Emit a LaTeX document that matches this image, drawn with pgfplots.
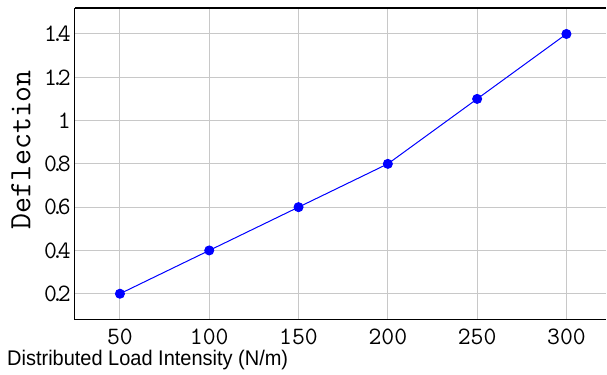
\documentclass[border=0pt]{standalone}
\usepackage{fontspec}
\usepackage{pgfplots}
\pgfplotsset{compat=1.18}
\newfontfamily\sansx{Liberation Sans}
\definecolor{gridgray}{RGB}{200,200,200}
\newcommand{\dt}{\kern-.24em.\kern-.24em}
\begin{document}
\begin{tikzpicture}
\begin{axis}[
  scale only axis,
  width=532pt, height=312pt,
  xmin=24.8, xmax=322.4,
  ymin=0.08, ymax=1.52,
  xtick={50,100,150,200,250,300},
  xticklabels={50,100,150,200,250,300},
  ytick={0.2,0.4,0.6,0.8,1,1.2,1.4},
  yticklabels={0\dt2,0\dt4,0\dt6,0\dt8,1,1\dt2,1\dt4},
  axis x line=box, axis y line*=left,
  axis line style={-, black, line width=1.1pt},
  major tick length=0pt,
  grid=major,
  major grid style={gridgray, line width=1pt},
  ticklabel style={font=\fontsize{25}{28}\selectfont\ttfamily, inner sep=0pt},
  xticklabel style={yshift=-9pt},
  yticklabel style={xshift=-4pt},
  xlabel={\scalebox{1}[1.06]{Distributed Load Intensity (N/m)}},
  xlabel style={font=\fontsize{20}{24}\selectfont\sansx, at={(rel axis cs:0,0)}, anchor=base west, xshift=-68pt, yshift=-46pt, inner sep=0pt},
  ylabel={Deflection},
  ylabel style={font=\fontsize{31}{34}\selectfont\ttfamily, at={(rel axis cs:0,0.5)}, anchor=center, xshift=14pt, yshift=54pt, inner sep=0pt},
]
\addplot[blue, line width=1pt, mark=*, mark size=4.5pt, mark options={fill=blue, draw=blue}]
  coordinates {(50,0.2) (100,0.4) (150,0.6) (200,0.8) (250,1.1) (300,1.4)};
\end{axis}
\path ([xshift=-75pt,yshift=-55pt]current axis.south west) rectangle ([yshift=8pt]current axis.north east);
\end{tikzpicture}
\end{document}
